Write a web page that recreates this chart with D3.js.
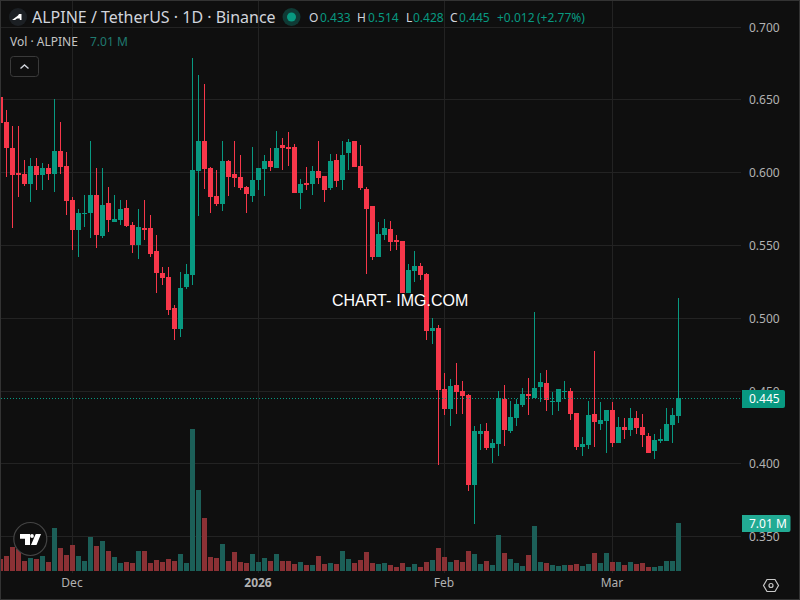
<!DOCTYPE html>
<html>
<head>
<meta charset="utf-8">
<script src="https://cdn.jsdelivr.net/npm/d3@7"></script>
<style>
  html, body { margin: 0; padding: 0; background: #0f0f0f; overflow: hidden; }
  svg { display: block; }
  text { font-family: "Noto Sans", sans-serif; }
</style>
</head>
<body>
<script>
// Daily candles, starting 2025-11-19
const startDate = new Date(Date.UTC(2025, 10, 19));

const opens = [
  .6521,.6349,.6171,.5999,.5992,.5924,.6047,.5985,.6033,.5992,
  .6150,.6047,.5813,.5607,.5717,.5724,.5848,.5566,.5792,.5662,
  .5676,.5758,.5642,.5504,.5621,.5621,.5463,.5311,.5284,.5071,
  .4927,.5216,.5298,.6012,.6218,.6033,.5841,.5786,.6081,.5992,
  .5971,.5903,.5841,.5951,.6026,.6081,.6033,.6191,.6177,.6177,
  .5862,.5931,.5924,.6012,.5978,.5896,.6088,.5951,.6136,.6218,
  .6047,.5889,.5772,.5422,.5573,.5614,.5538,.5532,.5174,.5325,
  .5360,.5305,.4913,.4934,.4515,.4378,.4543,.4501,.4474,.3856,
  .4206,.4227,.4110,.4137,.4446,.4227,.4316,.4405,.4481,.4453,
  .4529,.4556,.4426,.4426,.4495,.4501,.4350,.4117,.4131,.4343,
  .4275,.4295,.4371,.4144,.4254,.4234,.4316,.4254,.4193,.4089,
  .4158,.4158,.4268,.4330
];
const highs = [
  .6521,.6431,.6322,.6322,.6088,.6102,.6102,.6067,.6060,.6507,
  .6349,.6143,.5834,.5751,.5848,.6218,.6033,.6033,.5903,.5848,
  .5813,.5813,.5662,.5751,.5813,.5710,.5573,.5353,.5353,.5092,
  .5318,.5374,.6788,.6672,.6610,.6040,.6019,.6218,.6088,.6218,
  .6122,.5910,.6177,.6033,.6122,.6170,.6287,.6239,.6280,.6198,
  .5958,.6040,.6047,.6218,.5978,.6129,.6129,.6218,.6232,.6218,
  .6191,.5903,.5772,.5662,.5683,.5669,.5573,.5532,.5374,.5463,
  .5381,.5311,.5003,.4954,.4625,.4584,.4694,.4570,.4481,.4261,
  .4275,.4282,.4172,.4501,.4543,.4433,.4446,.4522,.4591,.5044,
  .4625,.4646,.4495,.4515,.4570,.4522,.4350,.4186,.4433,.4776,
  .4426,.4371,.4426,.4323,.4316,.4385,.4364,.4343,.4213,.4206,
  .4241,.4385,.4385,.5140
];
const lows = [
  .6342,.5971,.5621,.5834,.5910,.5799,.5882,.5882,.5951,.5868,
  .5992,.5710,.5470,.5422,.5628,.5552,.5484,.5552,.5593,.5662,
  .5642,.5628,.5449,.5408,.5538,.5422,.5174,.5230,.5023,.4852,
  .4872,.5202,.5230,.5703,.5889,.5724,.5772,.5738,.5841,.5903,
  .5882,.5724,.5799,.5882,.5841,.6012,.6033,.6019,.6047,.5862,
  .5751,.5882,.5848,.5924,.5799,.5882,.5903,.5882,.6019,.6040,
  .5882,.5305,.5401,.5422,.5538,.5463,.5470,.5174,.5174,.5250,
  .5264,.4852,.4824,.3993,.4336,.4261,.4343,.4343,.3814,.3588,
  .4096,.4096,.4007,.4055,.4124,.4213,.4261,.4392,.4336,.4453,
  .4426,.4364,.4336,.4364,.4446,.4302,.4096,.4055,.4103,.4117,
  .4234,.4075,.4117,.4144,.4172,.4193,.4206,.4117,.4075,.4034,
  .4144,.4158,.4144,.4280
];
const closes = [
  .6342,.6171,.5985,.5985,.5924,.6047,.5985,.6033,.5992,.6150,
  .6040,.5806,.5607,.5724,.5724,.5848,.5573,.5779,.5676,.5683,
  .5751,.5635,.5504,.5628,.5607,.5442,.5311,.5277,.5058,.4927,
  .5209,.5305,.6019,.6218,.6026,.5834,.5786,.6081,.5971,.5964,
  .5896,.5855,.5951,.6033,.6081,.6040,.6170,.6170,.6163,.5862,
  .5924,.5917,.6012,.5964,.5882,.6081,.5944,.6122,.6211,.6040,
  .5896,.5751,.5422,.5580,.5621,.5525,.5525,.5174,.5332,.5360,
  .5298,.4913,.4934,.4508,.4378,.4536,.4495,.4467,.3856,.4227,
  .4227,.4110,.4144,.4453,.4234,.4323,.4412,.4481,.4467,.4522,
  .4563,.4440,.4433,.4515,.4501,.4343,.4117,.4137,.4336,.4289,
  .4302,.4371,.4144,.4254,.4234,.4316,.4247,.4199,.4075,.4165,
  .4172,.4275,.4336,.4450
];
// Volume in millions
const volumes = [
  1.75,2.19,3.51,3.21,1.46,1.90,1.75,2.19,1.31,6.28,
  3.36,2.34,3.80,2.19,1.46,4.97,3.65,4.38,2.92,2.05,
  1.17,1.31,1.17,2.92,2.92,1.17,1.61,1.31,1.75,1.46,
  2.48,1.17,20.75,11.83,7.74,2.05,1.90,3.94,1.46,2.78,
  1.31,1.17,2.48,1.31,1.90,1.46,2.48,1.46,1.46,1.02,
  1.31,.88,.88,2.19,1.02,1.17,1.02,2.92,1.75,1.17,
  1.61,2.78,1.17,1.02,1.17,.88,.58,1.17,.58,1.02,
  .58,1.31,1.61,3.36,2.05,1.31,1.61,1.31,2.92,2.48,
  1.02,1.46,.88,5.26,2.63,1.75,1.17,.73,2.34,6.57,
  1.31,1.17,.88,.73,.88,.88,1.02,.73,1.02,2.63,
  1.17,2.63,1.31,1.31,.88,1.31,1.02,1.17,.58,.58,
  .73,1.46,1.46,7.01
];

const priceTicks = [0.35, 0.40, 0.45, 0.50, 0.55, 0.60, 0.65, 0.70];
const monthTicks = [
  new Date(Date.UTC(2025, 11, 1)),
  new Date(Date.UTC(2026, 0, 1)),
  new Date(Date.UTC(2026, 1, 1)),
  new Date(Date.UTC(2026, 2, 1))
];
const monthLabels = ["Dec", "2026", "Feb", "Mar"];

const lastClose = closes[closes.length - 1];
const lastVolume = volumes[volumes.length - 1];

const upColor = "#089981";
const downColor = "#f7374a";
const upVolColor = "#1c5f58";
const downVolColor = "#8b3135";
const gridColor = "#232323";
const textColor = "#b2b2b2";

const candles = opens.map((open, i) => ({
  date: d3.utcDay.offset(startDate, i),
  open: open,
  high: highs[i],
  low: lows[i],
  close: closes[i],
  volume: volumes[i],
  up: closes[i] >= open
}));

const width = 800;
const height = 600;
const plotRight = 741;
const plotBottom = 571;

const svg = d3.select("body")
  .append("svg")
  .attr("width", width)
  .attr("height", height);

svg.append("rect")
  .attr("width", width)
  .attr("height", height)
  .attr("fill", "#0f0f0f");

// Scales
const xScale = d3.scaleUtc()
  .domain([candles[0].date, candles[candles.length - 1].date])
  .range([0.5, 678.5]);

const yScale = d3.scaleLinear()
  .domain([0.35, 0.70])
  .range([536.8, 27.2]);

const volScale = d3.scaleLinear()
  .domain([0, 20.75])
  .range([plotBottom, 429]);

// Grid
svg.append("g")
  .selectAll("line")
  .data(priceTicks)
  .enter()
  .append("line")
  .attr("x1", 1)
  .attr("x2", plotRight)
  .attr("y1", d => Math.floor(yScale(d)) + 0.5)
  .attr("y2", d => Math.floor(yScale(d)) + 0.5)
  .attr("stroke", gridColor);

svg.append("g")
  .selectAll("line")
  .data(monthTicks)
  .enter()
  .append("line")
  .attr("x1", d => xScale(d))
  .attr("x2", d => xScale(d))
  .attr("y1", 1)
  .attr("y2", plotBottom + 2)
  .attr("stroke", gridColor);

// Volume bars
svg.append("g")
  .selectAll("rect")
  .data(candles)
  .enter()
  .append("rect")
  .attr("x", d => xScale(d.date) - 2.5)
  .attr("y", d => Math.round(volScale(d.volume)))
  .attr("width", 5)
  .attr("height", d => plotBottom - Math.round(volScale(d.volume)))
  .attr("fill", d => d.up ? upVolColor : downVolColor);

// Wicks
svg.append("g")
  .selectAll("rect")
  .data(candles)
  .enter()
  .append("rect")
  .attr("x", d => xScale(d.date) - 0.5)
  .attr("y", d => Math.round(yScale(d.high)))
  .attr("width", 1)
  .attr("height", d => Math.round(yScale(d.low)) - Math.round(yScale(d.high)))
  .attr("fill", d => d.up ? upColor : downColor);

// Candle bodies
svg.append("g")
  .selectAll("rect")
  .data(candles)
  .enter()
  .append("rect")
  .attr("x", d => xScale(d.date) - 2.5)
  .attr("y", d => Math.round(yScale(Math.max(d.open, d.close))))
  .attr("width", 5)
  .attr("height", d => Math.max(1, Math.round(yScale(Math.min(d.open, d.close))) - Math.round(yScale(Math.max(d.open, d.close)))))
  .attr("fill", d => d.up ? upColor : downColor);

// Last price line
svg.append("line")
  .attr("x1", 1)
  .attr("x2", 742)
  .attr("y1", Math.floor(yScale(lastClose)) + 0.5)
  .attr("y2", Math.floor(yScale(lastClose)) + 0.5)
  .attr("stroke", upColor)
  .attr("stroke-dasharray", "1,2");

// Price axis
const priceAxis = svg.append("g")
  .attr("transform", "translate(741,0)")
  .call(d3.axisRight(yScale).tickValues(priceTicks).tickFormat(d3.format(".3f")).tickSize(0).tickPadding(8));
priceAxis.select(".domain").remove();
priceAxis.selectAll("text")
  .style("font-family", '"Noto Sans", sans-serif')
  .style("font-size", "12px")
  .attr("fill", textColor);

// Time axis
const timeAxis = svg.append("g")
  .attr("transform", "translate(-1,578)")
  .call(d3.axisBottom(xScale).tickValues(monthTicks).tickFormat((d, i) => monthLabels[i]).tickSize(0).tickPadding(0));
timeAxis.select(".domain").remove();
timeAxis.selectAll("text")
  .style("font-family", '"Noto Sans", sans-serif')
  .style("font-size", "12px")
  .style("font-weight", (d, i) => monthLabels[i] === "2026" ? "700" : "400")
  .attr("fill", textColor);

// Price and volume badges
function addBadge(y, w, h, fill, label) {
  const r = 2;
  svg.append("path")
    .attr("d", `M742,${y}H${742 + w - r}Q${742 + w},${y} ${742 + w},${y + r}V${y + h - r}Q${742 + w},${y + h} ${742 + w - r},${y + h}H742Z`)
    .attr("fill", fill);
  svg.append("text")
    .attr("x", 749)
    .attr("y", y + h / 2 + 4)
    .attr("font-size", 12)
    .attr("fill", "#ffffff")
    .text(label);
}
addBadge(390, 43, 18, upColor, d3.format(".3f")(lastClose));
addBadge(515, 48.5, 17, "#22ab94", d3.format(".2f")(lastVolume) + " M");

// Header
svg.append("circle").attr("cx", 18).attr("cy", 17).attr("r", 9).attr("fill", "#1c2024");
svg.append("path")
  .attr("d", "M12 20 L18 15.5 L19 14 H21.5 L21.5 20 H19.8 V18.5 H17 L15 20 Z")
  .attr("fill", "#ffffff");

svg.append("text")
  .attr("x", 32)
  .attr("y", 22.5)
  .attr("font-size", 16)
  .attr("fill", "#d1d4dc")
  .text("ALPINE / TetherUS · 1D · Binance");

svg.append("circle").attr("cx", 291.5).attr("cy", 17).attr("r", 9).attr("fill", "#0f3a35");
svg.append("circle").attr("cx", 291.5).attr("cy", 17).attr("r", 4.5).attr("fill", upColor);

const legendItems = [
  { x: 309, text: "O", fill: "#d1d4dc" },
  { x: 320, text: "0.433", fill: upColor },
  { x: 357, text: "H", fill: "#d1d4dc" },
  { x: 368, text: "0.514", fill: upColor },
  { x: 406, text: "L", fill: "#d1d4dc" },
  { x: 413, text: "0.428", fill: upColor },
  { x: 450, text: "C", fill: "#d1d4dc" },
  { x: 459, text: "0.445", fill: upColor },
  { x: 497, text: "+0.012", fill: upColor },
  { x: 537, text: "(+2.77%)", fill: upColor }
];
svg.append("g")
  .selectAll("text")
  .data(legendItems)
  .enter()
  .append("text")
  .attr("x", d => d.x)
  .attr("y", 22)
  .attr("font-size", 12)
  .attr("fill", d => d.fill)
  .text(d => d.text);

svg.append("text")
  .attr("x", 10)
  .attr("y", 46)
  .attr("font-size", 12)
  .attr("fill", "#c4c4c4")
  .text("Vol · ALPINE");

svg.append("text")
  .attr("x", 90)
  .attr("y", 46)
  .attr("font-size", 12)
  .attr("fill", "#1f7a70")
  .text(d3.format(".2f")(lastVolume) + " M");

// Collapse button
svg.append("rect")
  .attr("x", 10.5)
  .attr("y", 56.5)
  .attr("width", 28)
  .attr("height", 20)
  .attr("rx", 3)
  .attr("fill", "#0f0f0f")
  .attr("stroke", "#3a3a3a");
svg.append("path")
  .attr("d", "M20.5 68.5 L24.5 65 L28.5 68.5")
  .attr("fill", "none")
  .attr("stroke", "#d1d4dc")
  .attr("stroke-width", 1.4);

// Watermark
const watermark = svg.append("text")
  .attr("x", 332)
  .attr("y", 306)
  .attr("fill", "#ffffff")
  .style("font-family", '"Liberation Sans", Arial, sans-serif')
  .style("font-size", "16px");
watermark.append("tspan").text("CHART-");
watermark.append("tspan").attr("dx", 5).text("IMG.COM");

// TradingView badge
svg.append("circle")
  .attr("cx", 30.3)
  .attr("cy", 539)
  .attr("r", 16.5)
  .attr("fill", "#0f0f0f")
  .attr("stroke", "#444444")
  .attr("stroke-width", 1.2);
svg.append("path")
  .attr("d", "M20 534 H30 V545 H25 V538.7 H20 Z M35.7 534 H41 L36.5 545 H31 Z")
  .attr("fill", "#ffffff");
svg.append("circle").attr("cx", 32).attr("cy", 536).attr("r", 1.9).attr("fill", "#ffffff");

// Settings icon
svg.append("path")
  .attr("d", "M763.5 585.5 L767 579.5 H775 L778.5 585.5 L775 591.5 H767 Z")
  .attr("fill", "none")
  .attr("stroke", "#c8c8c8")
  .attr("stroke-width", 1.2);
svg.append("circle")
  .attr("cx", 771)
  .attr("cy", 585.5)
  .attr("r", 2)
  .attr("fill", "none")
  .attr("stroke", "#c8c8c8")
  .attr("stroke-width", 1.2);

// Outer frame
svg.append("rect")
  .attr("x", 0.5)
  .attr("y", 0.5)
  .attr("width", width - 1)
  .attr("height", height - 1)
  .attr("fill", "none")
  .attr("stroke", "#333333");
</script>
</body>
</html>
